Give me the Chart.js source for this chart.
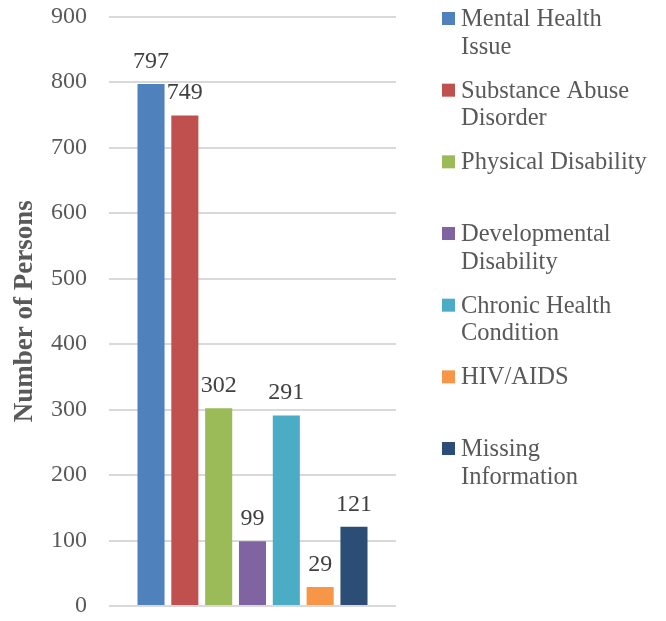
<!DOCTYPE html>
<html>
<head>
<meta charset="utf-8">
<script src="https://cdn.jsdelivr.net/npm/chart.js@4.4.0/dist/chart.umd.min.js"></script>
<style>
  html,body{margin:0;padding:0;background:#fff;}
  #wrap{width:666px;height:621px;position:relative;}
</style>
</head>
<body>
<div id="wrap"><canvas id="myChart"></canvas></div>
<script>
// ***********data***********
const categories=[''];
const seriesNames=['Mental Health Issue','Substance Abuse Disorder','Physical Disability','Developmental Disability','Chronic Health Condition','HIV/AIDS','Missing Information'];
const legendLines=[['Mental Health','Issue'],['Substance Abuse','Disorder'],['Physical Disability'],['Developmental','Disability'],['Chronic Health','Condition'],['HIV/AIDS'],['Missing','Information']];
const seriesValues=[797,749,302,99,291,29,121];
const seriesColors=['#4F81BD','#C0504D','#9BBB59','#8064A2','#4BACC6','#F79646','#2C4D75'];
const yMin=0, yMax=900, yStep=100;
const yTitle='Number of Persons';

const FONT='"Liberation Serif", "Times New Roman", serif';

// ********value labels above bars******
const valueLabels={
  id:'valueLabels',
  afterDatasetsDraw(chart){
    const c=chart.ctx;
    c.save();
    c.font='24px '+FONT;
    c.fillStyle='#404040';
    c.textAlign='center';
    c.textBaseline='alphabetic';
    chart.data.datasets.forEach((ds,i)=>{
      const meta=chart.getDatasetMeta(i);
      meta.data.forEach((bar,j)=>{
        c.fillText(String(ds.data[j]),bar.x,bar.y-16);
      });
    });
    c.restore();
  }
};

// ********legend on the right******
const sideLegend={
  id:'sideLegend',
  afterDraw(chart){
    const c=chart.ctx;
    const boxX=442, textX=461, top=12, step=71.67, box=13, lineH=27.5;
    c.save();
    c.font='24.5px '+FONT;
    c.textBaseline='alphabetic';
    c.textAlign='left';
    chart.data.datasets.forEach((ds,i)=>{
      const y=top+i*step;
      c.fillStyle=ds.backgroundColor;
      c.fillRect(boxX,y,box,box);
      c.fillStyle='#595959';
      legendLines[i].forEach((line,k)=>{
        c.fillText(line,textX,y+14+k*lineH);
      });
    });
    c.restore();
  }
};

const ctx=document.getElementById('myChart');
new Chart(ctx,{
  type:'bar',
  data:{
    labels:categories,
    datasets:seriesNames.map((name,i)=>({
      label:name,
      data:[seriesValues[i]],
      backgroundColor:seriesColors[i],
      borderWidth:0,
      categoryPercentage:0.825,
      barPercentage:0.8
    }))
  },
  options:{
    responsive:true,
    maintainAspectRatio:false,
    animation:false,
    layout:{padding:{left:9,right:270,top:0,bottom:0}},
    plugins:{
      legend:{display:false},
      tooltip:{enabled:false}
    },
    scales:{
      x:{
        grid:{display:false,drawTicks:false},
        border:{display:false},
        ticks:{display:false}
      },
      y:{
        min:yMin,
        max:yMax,
        afterFit(scale){
          scale.width=100;
          scale.paddingTop=16.5;
          scale.paddingBottom=15;
        },
        ticks:{
          stepSize:yStep,
          padding:22,
          color:'#595959',
          font:{family:FONT,size:24}
        },
        grid:{color:'#D9D9D9',lineWidth:2,drawTicks:false},
        border:{display:false},
        title:{
          display:true,
          text:yTitle,
          color:'#595959',
          font:{family:FONT,size:27,weight:'bold'},
          padding:{top:0,bottom:0}
        }
      }
    }
  },
  plugins:[valueLabels,sideLegend]
});
</script>
</body>
</html>
